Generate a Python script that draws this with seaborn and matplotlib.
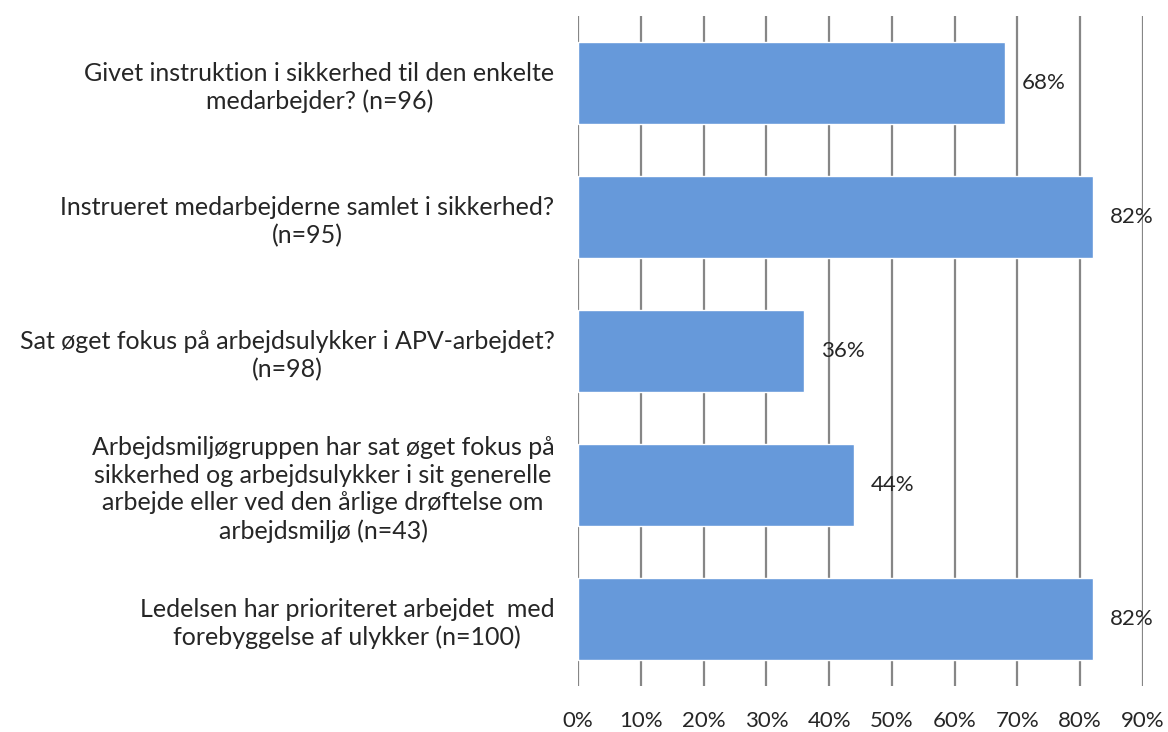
import matplotlib.pyplot as plt
import seaborn as sns
import pandas as pd
import numpy as np

# Data
questions = [
    "Givet instruktion i sikkerhed til den enkelte\nmedarbejder? (n=96)",
    "Instrueret medarbejderne samlet i sikkerhed?\n(n=95)",
    "Sat øget fokus på arbejdsulykker i APV-arbejdet?\n(n=98)",
    "Arbejdsmiljøgruppen har sat øget fokus på\nsikkerhed og arbejdsulykker i sit generelle\narbejde eller ved den årlige drøftelse om\narbejdsmiljø (n=43)",
    "Ledelsen har prioriteret arbejdet  med\nforebyggelse af ulykker (n=100)",
]
shares = [0.68, 0.82, 0.36, 0.44, 0.82]
tick_values = [0.0, 0.1, 0.2, 0.3, 0.4, 0.5, 0.6, 0.7, 0.8, 0.9]

df = pd.DataFrame({'Question': questions, 'Share': shares})

sns.set_style('white')
plt.rcParams['font.family'] = ['Lato', 'DejaVu Sans']

fig = plt.figure(figsize=(11.68, 7.32), dpi=100)
ax = fig.add_axes([0.4949, 0.0628, 0.4837, 0.9153])

sns.barplot(
            data=df,
            x='Share',
            y='Question',
            orient='h',
            color='#6699DA',
            saturation=1,
            width=0.61,
            ax=ax
           )

ax.set_xlim(0, 0.9)
ax.set_ylim(4.5, -0.5)
ax.set_xticks(tick_values)
ax.set_xticklabels([f"{int(round(t * 100))}%" for t in tick_values], fontsize=16)
ax.tick_params(axis='x', length=0, pad=18)
ax.tick_params(axis='y', length=0, pad=17)
for lbl in ax.get_yticklabels():
    lbl.set_fontsize(18)
    lbl.set_multialignment('center')
    lbl.set_linespacing(1.25)

ax.set_xlabel('')
ax.set_ylabel('')
for side in ['top', 'right', 'bottom', 'left']:
    ax.spines[side].set_visible(False)

# vertical gridlines, drawn behind the bars
for t in tick_values:
    ax.axvline(t, color='#868686', lw=1.6, zorder=0)
ax.set_axisbelow(True)

for i, v in enumerate(shares):
    ax.text(v + 0.027, i, f"{int(round(v * 100))}%", va='center', ha='left', fontsize=16)

fig.savefig('out.png', dpi=100)
